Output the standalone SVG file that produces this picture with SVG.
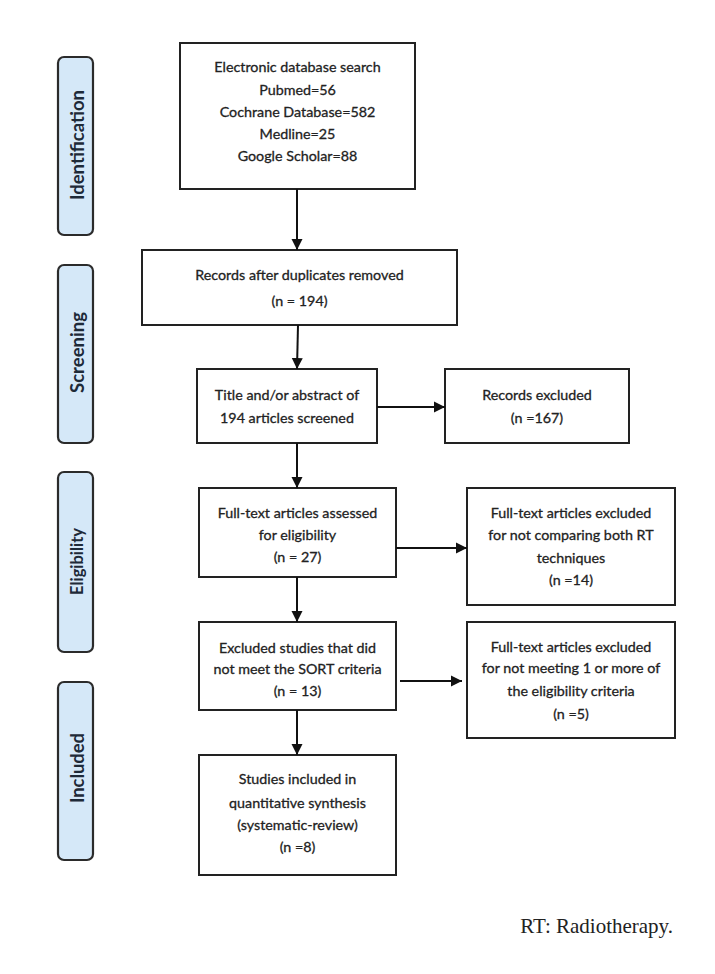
<svg xmlns="http://www.w3.org/2000/svg" width="715" height="974" viewBox="0 0 715 974">
<style>
.box{fill:#fff;stroke:#222;stroke-width:2}
.side{fill:#d5e8f8;stroke:#2b2b2b;stroke-width:2.2}
.t{font-family:Lato,"Open Sans",sans-serif;font-size:14.3px;fill:#222;stroke:#222;stroke-width:0.3;text-anchor:middle}
.s{font-family:Lato,"Open Sans",sans-serif;font-size:18.5px;font-weight:bold;fill:#1e2a38;text-anchor:middle}
.c{stroke:#111;stroke-width:2;fill:none;marker-end:url(#ah)}
</style>
<defs>
<marker id="ah" markerWidth="12" markerHeight="12" refX="11" refY="6" orient="auto" markerUnits="userSpaceOnUse">
<path d="M0,0.5 L11,6 L0,11.5 Z" fill="#111"/>
</marker>
</defs>
<rect width="715" height="974" fill="#fff"/>
<g id="phase-identification"><rect class="side" x="58" y="57" width="35" height="178" rx="6"/><text class="s" transform="translate(84,145) rotate(-90)" textLength="110" lengthAdjust="spacing">Identification</text></g>
<g id="phase-screening"><rect class="side" x="58" y="265" width="35" height="178" rx="6"/><text class="s" transform="translate(84,352.5) rotate(-90)" textLength="81" lengthAdjust="spacing">Screening</text></g>
<g id="phase-eligibility"><rect class="side" x="58" y="472" width="35" height="180" rx="6"/><text class="s" style="font-size:16.5px" transform="translate(83,561.5) rotate(-90)" textLength="67" lengthAdjust="spacing">Eligibility</text></g>
<g id="phase-included"><rect class="side" x="58" y="682" width="35" height="178" rx="6"/><text class="s" transform="translate(84,768) rotate(-90)" textLength="70" lengthAdjust="spacing">Included</text></g>

<g id="n-search"><rect class="box" x="180" y="43" width="235" height="146"/>
<text class="t" x="297.5" y="72">Electronic database search</text>
<text class="t" x="297.5" y="95">Pubmed=56</text>
<text class="t" x="297.5" y="117">Cochrane Database=582</text>
<text class="t" x="297.5" y="139">Medline=25</text>
<text class="t" x="297.5" y="161">Google Scholar=88</text></g>

<g id="n-dup"><rect class="box" x="142" y="250" width="315" height="75"/>
<text class="t" x="299.5" y="280">Records after duplicates removed</text>
<text class="t" x="299.5" y="306">(n = 194)</text></g>

<g id="n-screen"><rect class="box" x="197" y="369" width="180" height="74"/>
<text class="t" x="287" y="400">Title and/or abstract of</text>
<text class="t" x="287" y="423">194 articles screened</text></g>

<g id="n-excl1"><rect class="box" x="445" y="369" width="184" height="74"/>
<text class="t" x="537" y="400">Records excluded</text>
<text class="t" x="537" y="423">(n =167)</text></g>

<g id="n-full"><rect class="box" x="199" y="488" width="197" height="89"/>
<text class="t" x="297.5" y="518">Full-text articles assessed</text>
<text class="t" x="297.5" y="540">for eligibility</text>
<text class="t" x="297.5" y="562">(n = 27)</text></g>

<g id="n-excl2"><rect class="box" x="467" y="488" width="208" height="117"/>
<text class="t" x="571" y="518">Full-text articles excluded</text>
<text class="t" x="571" y="540">for not comparing both RT</text>
<text class="t" x="571" y="563">techniques</text>
<text class="t" x="571" y="585">(n =14)</text></g>

<g id="n-sort"><rect class="box" x="199" y="622" width="197" height="88"/>
<text class="t" x="297.5" y="653">Excluded studies that did</text>
<text class="t" x="297.5" y="674">not meet the SORT criteria</text>
<text class="t" x="297.5" y="696">(n = 13)</text></g>

<g id="n-excl3"><rect class="box" x="467" y="622" width="208" height="116"/>
<text class="t" x="571" y="652">Full-text articles excluded</text>
<text class="t" x="571" y="673">for not meeting 1 or more of</text>
<text class="t" x="571" y="696">the eligibility criteria</text>
<text class="t" x="571" y="719">(n =5)</text></g>

<g id="n-incl"><rect class="box" x="199" y="755" width="197" height="120"/>
<text class="t" x="297.5" y="784">Studies included in</text>
<text class="t" x="297.5" y="808">quantitative synthesis</text>
<text class="t" x="297.5" y="830">(systematic-review)</text>
<text class="t" x="297.5" y="852">(n =8)</text></g>

<g id="connectors">
<line class="c" x1="297" y1="189" x2="297" y2="250"/>
<line class="c" x1="298" y1="325" x2="297" y2="369"/>
<line class="c" x1="377" y1="407" x2="445" y2="407"/>
<line class="c" x1="297" y1="443" x2="297" y2="488"/>
<line class="c" x1="396" y1="548" x2="467" y2="548"/>
<line class="c" x1="297" y1="577" x2="297" y2="622"/>
<line class="c" x1="400" y1="681" x2="462" y2="681"/>
<line class="c" x1="297" y1="710" x2="297" y2="755"/>
</g>

<text id="note" x="673" y="933" style="font-family:'Liberation Serif',serif;font-size:21px;fill:#222;text-anchor:end">RT: Radiotherapy.</text>
</svg>
